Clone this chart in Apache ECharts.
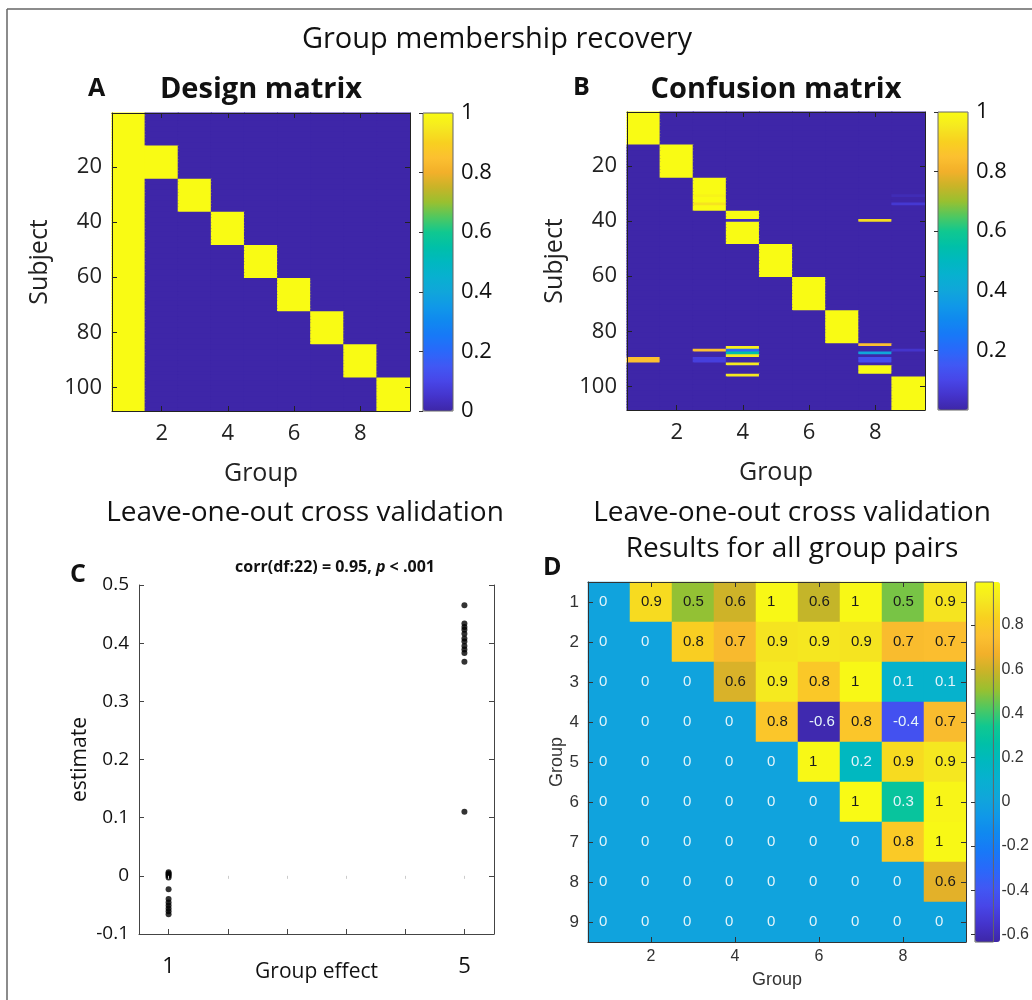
<!DOCTYPE html>
<html><head><meta charset="utf-8">
<script src="https://cdn.jsdelivr.net/npm/echarts@6/dist/echarts.min.js"></script>
<style>html,body{margin:0;padding:0;background:#fff}#c{width:1032px;height:1000px}</style>
</head><body><div id="c"></div><script>
// ---------------- data ----------------
const GROUPS = ['1','2','3','4','5','6','7','8','9'];
const SUBJECTS_PER_GROUP = 12;
const SUBJECT_TICKS = [20, 40, 60, 80, 100];
const GROUP_TICKS = [2, 4, 6, 8];
const CBAR_TICKS_A = [0, 0.2, 0.4, 0.6, 0.8, 1];
const CBAR_TICKS_B = [0.2, 0.4, 0.6, 0.8, 1];
const CBAR_TICKS_D = [-0.6, -0.4, -0.2, 0, 0.2, 0.4, 0.6, 0.8];
// confusion matrix: subjects whose recovered membership differs from their true group
const CONFUSION_ROWS = [
  [31, {3: 0.98, 9: 0.02}],
  [34, {3: 0.94, 9: 0.06}],
  [40, {4: 0.03, 8: 0.93}],
  [85, {8: 0.85}],
  [86, {4: 0.97}],
  [87, {3: 0.85, 4: 0.2, 9: 0.05}],
  [88, {4: 0.55, 8: 0.4}],
  [89, {4: 0.95}],
  [90, {1: 0.85, 3: 0.08, 8: 0.12}],
  [91, {1: 0.85, 3: 0.08, 8: 0.12}],
  [92, {4: 0.95}],
  [93, {8: 1}],
  [94, {8: 1}],
  [95, {8: 1}],
  [96, {4: 0.95}]
];
// panel C
const C_EFFECTS = [1, 5];
const C_X_TICKS = [1, 1.8, 2.6, 3.4, 4.2, 5];
const C_EST_EFFECT1 = [0.006, 0.004, 0.002, 0.000, -0.003, -0.023, -0.040, -0.046, -0.051, -0.056, -0.061, -0.066];
const C_EST_EFFECT5 = [0.465, 0.434, 0.428, 0.423, 0.416, 0.408, 0.403, 0.395, 0.389, 0.383, 0.368, 0.110];
// panel D (rows = group 1..9, columns = group 1..9)
const D_VALUES = [
  [0, 0.87, 0.50, 0.60, 0.98, 0.58, 0.98, 0.47, 0.90],
  [0, 0, 0.82, 0.72, 0.90, 0.91, 0.90, 0.73, 0.74],
  [0, 0, 0, 0.62, 0.92, 0.79, 0.98, 0.12, 0.12],
  [0, 0, 0, 0, 0.78, -0.62, 0.78, -0.42, 0.73],
  [0, 0, 0, 0, 0, 0.98, 0.18, 0.87, 0.91],
  [0, 0, 0, 0, 0, 0, 0.99, 0.30, 0.97],
  [0, 0, 0, 0, 0, 0, 0, 0.80, 0.98],
  [0, 0, 0, 0, 0, 0, 0, 0, 0.64],
  [0, 0, 0, 0, 0, 0, 0, 0, 0]
];
const D_RANGE = [-0.635, 0.995];
// parula-like colormap
const PARULA = ['#3e26a8','#4434cc','#4846e8','#4058f4','#2a68fa','#1878f8','#1088f0','#1098e8','#10a6da','#08b0d0',
  '#00b8c0','#00c0a8','#10c890','#50c860','#98c030','#c8b428','#f2b02a','#fcc030','#f8d020','#f5e820','#f9fb14'];

// ---------------- build ----------------
const NSUB = GROUPS.length * SUBJECTS_PER_GROUP;
const SUBJECTS = Array.from({length: NSUB}, (_, i) => String(i + 1));
const groupOf = s => Math.ceil(s / SUBJECTS_PER_GROUP);
const designData = [], confData = [];
const exc = new Map(CONFUSION_ROWS);
for (let s = 1; s <= NSUB; s++) {
  const g = groupOf(s);
  for (let c = 1; c <= GROUPS.length; c++) {
    designData.push([c - 1, s - 1, (c === 1 || c === g) ? 1 : 0]);
    let v;
    if (exc.has(s)) v = exc.get(s)[c] || 0; else v = (c === g) ? 1 : 0;
    confData.push([c - 1, s - 1, v]);
  }
}
const dData = [];
D_VALUES.forEach((row, r) => row.forEach((v, c) => dData.push([c, r, v])));

const FL = '"Open Sans", Lato, sans-serif';
const FD = '"Liberation Sans", Arial, sans-serif';
const INK = '#111';
const fmt1 = v => { const r = Math.round(v * 10) / 10; return Math.abs(r) < 1e-9 ? '0' : String(r); };
const isGroupTick = (i, v) => GROUP_TICKS.includes(+v);
const isSubjTick = (i, v) => SUBJECT_TICKS.includes(+v);

// matrix cells drawn through the axes' scales, colour from the visualMap
function cellRender(params, api) {
  const c = api.coord([api.value(0), api.value(1)]);
  const s = api.size([1, 1]);
  return {type: 'rect',
    shape: {x: c[0] - s[0] / 2 - 0.5, y: c[1] - s[1] / 2 - 0.5, width: s[0] + 1, height: s[1] + 1},
    style: {fill: api.visual('color')}};
}

function catX(grid, pos, main, font, size, name, nameGap, nameSize, color, margin) {
  return {
    type: 'category', gridIndex: grid, data: GROUPS, position: pos, z: 10,
    axisLine: {show: true, onZero: false, lineStyle: {color: color, width: 1}},
    axisTick: {show: true, inside: true, length: 5, alignWithLabel: true, interval: isGroupTick, lineStyle: {color: color}},
    axisLabel: {show: main, interval: isGroupTick, fontSize: size, fontFamily: font, color: color, margin: margin},
    splitLine: {show: false},
    name: main ? name : '', nameLocation: 'middle', nameGap: nameGap,
    nameTextStyle: {fontSize: nameSize, fontFamily: font, color: color}
  };
}
function catY(grid, pos, main, data, interval, font, size, name, nameGap, nameSize, color, margin) {
  return {
    type: 'category', gridIndex: grid, data: data, position: pos, inverse: true, z: 10,
    axisLine: {show: true, onZero: false, lineStyle: {color: color, width: 1}},
    axisTick: {show: true, inside: true, length: 5, alignWithLabel: true, interval: interval, lineStyle: {color: color}},
    axisLabel: {show: main, interval: interval, fontSize: size, fontFamily: font, color: color, margin: margin},
    splitLine: {show: false},
    name: main ? name : '', nameLocation: 'middle', nameGap: nameGap, nameRotate: 90,
    nameTextStyle: {fontSize: nameSize, fontFamily: font, color: color}
  };
}
function cbarY(grid, min, max, ticks, font, size, color) {
  return {
    type: 'value', gridIndex: grid, min: min, max: max, position: 'right', z: 10,
    axisLine: {show: false},
    axisTick: {show: true, inside: true, length: 4, customValues: ticks, lineStyle: {color: '#333'}},
    axisLabel: {show: true, customValues: ticks, formatter: fmt1, fontSize: size, fontFamily: font, color: color, margin: 8},
    splitLine: {show: false}
  };
}
const T = (text, x, y, size, bold, align) => ({
  text: text, left: x, top: y, textAlign: align || 'center', textVerticalAlign: 'middle', padding: 0,
  textStyle: {fontSize: size, fontWeight: bold ? 'bold' : 'normal', fontFamily: FL, color: INK}
});

const option = {
  backgroundColor: '#fff',
  animation: false,
  title: [
    T('Group membership recovery', 497, 40, 29, false),
    T('A', 88, 89, 25, true, 'left'),
    T('Design matrix', 261, 90, 29, true),
    T('B', 573, 88, 25, true, 'left'),
    T('Confusion matrix', 776, 90, 29, true),
    T('Leave-one-out cross validation', 305, 513, 28, false),
    T('Leave-one-out cross validation', 792, 513, 28, false),
    T('Results for all group pairs', 792, 549, 28, false),
    T('C', 70, 575, 25, true, 'left'),
    {text: 'corr(df:22) = 0.95, {i|p} < .001', left: 335, top: 567, textAlign: 'center', textVerticalAlign: 'middle', padding: 0,
     textStyle: {fontSize: 16, fontWeight: 'bold', fontFamily: FL, color: INK,
       rich: {i: {fontSize: 16, fontWeight: 'bold', fontStyle: 'italic', fontFamily: FL, color: INK}}}},
    T('D', 543, 568, 25, true, 'left')
  ],
  graphic: [
    {type: 'line', shape: {x1: 7, y1: 9, x2: 1032, y2: 9}, style: {stroke: '#666', lineWidth: 1.5}, silent: true},
    {type: 'line', shape: {x1: 7, y1: 9, x2: 7, y2: 1000}, style: {stroke: '#666', lineWidth: 1.5}, silent: true}
  ],
  grid: [
    {left: 112, top: 113, width: 298, height: 298},
    {left: 627, top: 112, width: 298, height: 298},
    {left: 139, top: 585, width: 355, height: 349},
    {left: 588, top: 582, width: 378, height: 360},
    {left: 423, top: 113, width: 30, height: 298, show: true, borderColor: '#666', borderWidth: 1, backgroundColor: 'transparent', z: 10},
    {left: 938, top: 112, width: 30, height: 298, show: true, borderColor: '#666', borderWidth: 1, backgroundColor: 'transparent', z: 10},
    {left: 975, top: 582, width: 25, height: 360, show: true, borderColor: '#666', borderWidth: 1, backgroundColor: 'transparent', z: 10}
  ],
  xAxis: [
    catX(0, 'bottom', true, FL, 22, 'Group', 50, 25, '#222', 12),
    catX(0, 'top', false, FL, 22, '', 0, 0, '#222', 12),
    catX(1, 'bottom', true, FL, 22, 'Group', 50, 25, '#222', 12),
    catX(1, 'top', false, FL, 22, '', 0, 0, '#222', 12),
    {type: 'value', gridIndex: 2, min: 0.6, max: 5.4, position: 'bottom', z: 10,
     axisLine: {show: true, onZero: false, lineStyle: {color: '#444'}},
     axisTick: {show: true, inside: true, length: 5, customValues: C_X_TICKS, lineStyle: {color: '#444'}},
     axisLabel: {show: true, customValues: C_EFFECTS, fontSize: 22, fontFamily: FL, color: INK, margin: 0, padding: [22, 0, 0, 0]},
     splitLine: {show: false},
     name: 'Group effect', nameLocation: 'middle', nameGap: 28, nameMoveOverlap: false,
     nameTextStyle: {fontSize: 21, fontFamily: FL, color: INK}},
    {type: 'value', gridIndex: 2, min: 0.6, max: 5.4, position: 'top', z: 10,
     axisLine: {show: false},
     axisTick: {show: true, inside: true, length: 3, customValues: C_X_TICKS, lineStyle: {color: '#ccc'}},
     axisLabel: {show: false}, splitLine: {show: false}},
    catX(3, 'bottom', true, FD, 16, 'Group', 29, 18, '#333', 7),
    catX(3, 'top', false, FD, 16, '', 0, 0, '#333', 7),
    {type: 'value', gridIndex: 4, show: false, min: 0, max: 1},
    {type: 'value', gridIndex: 5, show: false, min: 0, max: 1},
    {type: 'value', gridIndex: 6, show: false, min: 0, max: 1}
  ],
  yAxis: [
    catY(0, 'left', true, SUBJECTS, isSubjTick, FL, 22, 'Subject', 60, 25, '#222', 10),
    catY(0, 'right', false, SUBJECTS, isSubjTick, FL, 22, '', 0, 0, '#222', 10),
    catY(1, 'left', true, SUBJECTS, isSubjTick, FL, 22, 'Subject', 60, 25, '#222', 10),
    catY(1, 'right', false, SUBJECTS, isSubjTick, FL, 22, '', 0, 0, '#222', 10),
    {type: 'value', gridIndex: 2, min: -0.1, max: 0.5, interval: 0.1, position: 'left', z: 10,
     axisLine: {show: true, onZero: false, lineStyle: {color: '#444'}},
     axisTick: {show: true, inside: true, length: 5, lineStyle: {color: '#444'}},
     axisLabel: {show: true, formatter: fmt1, fontSize: 19, fontFamily: FL, color: INK, margin: 10},
     splitLine: {show: false},
     name: 'estimate', nameLocation: 'middle', nameGap: 48, nameRotate: 90, nameTextStyle: {fontSize: 21, fontFamily: FL, color: INK}},
    {type: 'value', gridIndex: 2, min: -0.1, max: 0.5, interval: 0.1, position: 'right', z: 10,
     axisLine: {show: true, onZero: false, lineStyle: {color: '#444'}},
     axisTick: {show: true, inside: true, length: 5, lineStyle: {color: '#444'}},
     axisLabel: {show: false}, splitLine: {show: false}},
    catY(3, 'left', true, GROUPS, 0, FD, 17, 'Group', 21, 18, '#333', 9),
    catY(3, 'right', false, GROUPS, 0, FD, 17, '', 0, 0, '#333', 9),
    cbarY(4, 0, 1, CBAR_TICKS_A, FL, 22, INK),
    cbarY(5, 0, 1, CBAR_TICKS_B, FL, 22, INK),
    cbarY(6, D_RANGE[0], D_RANGE[1], CBAR_TICKS_D, FD, 16, '#333')
  ],
  visualMap: [
    {type: 'continuous', seriesIndex: 0, dimension: 2, min: 0, max: 1, inRange: {color: PARULA}, calculable: false, hoverLink: false,
     left: 423, top: 113, itemWidth: 30, itemHeight: 298, padding: 0, z: 2},
    {type: 'continuous', seriesIndex: 1, dimension: 2, min: 0, max: 1, inRange: {color: PARULA}, calculable: false, hoverLink: false,
     left: 938, top: 112, itemWidth: 30, itemHeight: 298, padding: 0, z: 2},
    {type: 'continuous', seriesIndex: 3, dimension: 2, min: D_RANGE[0], max: D_RANGE[1], inRange: {color: PARULA}, calculable: false, hoverLink: false,
     left: 975, top: 582, itemWidth: 25, itemHeight: 360, padding: 0, z: 2}
  ],
  series: [
    {type: 'custom', name: 'Design matrix', xAxisIndex: 0, yAxisIndex: 0, data: designData, renderItem: cellRender,
     encode: {x: 0, y: 1}, silent: true},
    {type: 'custom', name: 'Confusion matrix', xAxisIndex: 2, yAxisIndex: 2, data: confData, renderItem: cellRender,
     encode: {x: 0, y: 1}, silent: true},
    {type: 'scatter', name: 'estimate', xAxisIndex: 4, yAxisIndex: 4, symbolSize: 6, itemStyle: {color: '#000'},
     data: C_EST_EFFECT1.map(v => [C_EFFECTS[0], v]).concat(C_EST_EFFECT5.map(v => [C_EFFECTS[1], v]))},
    {type: 'heatmap', name: 'Group pairs', xAxisIndex: 6, yAxisIndex: 6, data: dData, emphasis: {disabled: true}, progressive: 0,
     label: {show: true, position: 'inside', align: 'left', offset: [-10, 0],
       formatter: p => { const v = p.value[2]; return (v < 0.35 ? '{l|' : '{d|') + fmt1(v) + '}'; },
       rich: {l: {color: '#e4f4fa', fontSize: 15, fontFamily: FD}, d: {color: '#1a1a1a', fontSize: 15, fontFamily: FD}}}}
  ]
};
const chart = echarts.init(document.getElementById('c'), null, {renderer: 'canvas'});
chart.setOption(option);
</script></body></html>
